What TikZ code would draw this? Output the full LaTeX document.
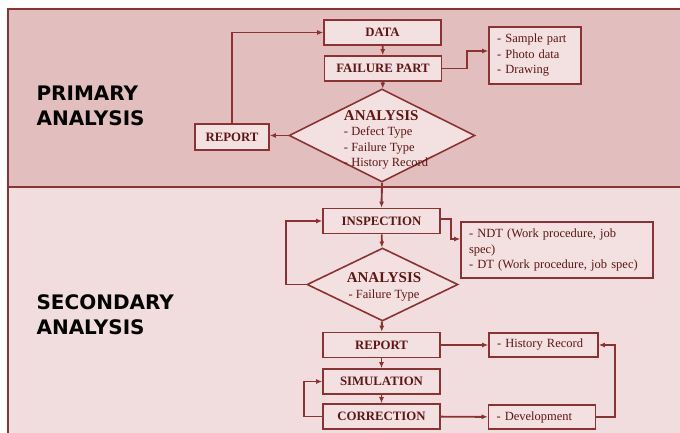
\documentclass[tikz,border=0pt]{standalone}
\usepackage{fontspec}
\setmainfont{Liberation Serif}
\newfontfamily\titlefont{DejaVu Sans}
\usetikzlibrary{shapes.geometric,arrows.meta,positioning,calc}

\definecolor{linered}{RGB}{140,50,50}
\definecolor{textred}{RGB}{95,22,22}
\definecolor{toppink}{RGB}{226,190,190}
\definecolor{lowpink}{RGB}{241,221,221}
\definecolor{boxpink}{RGB}{243,224,224}

\begin{document}
\begin{tikzpicture}[x=1pt,y=-1pt,
    box/.style={draw=linered, fill=boxpink, line width=1.6pt, minimum width=117pt, minimum height=25pt, inner sep=0pt, text=textred, font=\bfseries\fontsize{12.8}{14}\selectfont},
    listbox/.style={draw=linered, fill=boxpink, line width=1.6pt, inner ysep=0pt, inner xsep=8pt, text=textred, font=\fontsize{12.5}{15.5}\selectfont, align=left},
    decision/.style={diamond, draw=linered, fill=boxpink, line width=1.6pt, inner sep=0pt},
    inside/.style={text=textred, font=\fontsize{12.5}{15.5}\selectfont, align=left},
    flow/.style={draw=linered, line width=1.9pt, -{Latex[length=6pt,width=5pt]}},
    title/.style={font=\titlefont\bfseries\fontsize{20}{25}\selectfont, align=left, anchor=west}
]
    \useasboundingbox (0,0) rectangle (680,432);

    % Two bands
    \draw[linered, line width=1.6pt, fill=toppink] (8,9) rectangle (690,187);
    \draw[linered, line width=1.6pt, fill=lowpink] (8,187) rectangle (690,440);

    \node[title] (prim) at (33,106) {PRIMARY\\ANALYSIS};
    \node[title] (sec) at (33,315) {SECONDARY\\ANALYSIS};

    % Primary analysis
    \node[box] (data) at (382.5,32.5) {DATA};
    \node[box] (fail) at (383,68.5) {FAILURE PART};
    \node[decision, minimum width=186pt, minimum height=93pt] (ana1) at (382,135.5) {};
    \node[inside] (ana1txt) at (386,140) {{\bfseries\fontsize{15}{16}\selectfont ANALYSIS}\\- Defect Type\\- Failure Type\\- History Record};
    \node[box, minimum width=74pt, minimum height=26pt] (rep1) at (232,137) {REPORT};
    \node[listbox, text width=76pt, minimum height=57pt] (sample) at (535,55.5) {- Sample part\\- Photo data\\- Drawing};

    % Secondary analysis
    \node[box] (insp) at (381.5,221) {INSPECTION};
    \node[decision, minimum width=151pt, minimum height=73pt] (ana2) at (382.5,284.5) {};
    \node[inside, align=center] (ana2txt) at (384,287) {{\bfseries\fontsize{15}{16}\selectfont ANALYSIS}\\- Failure Type};
    \node[listbox, text width=176pt, minimum height=56pt] (ndt) at (557,250) {- NDT (Work procedure, job\\spec)\\- DT (Work procedure, job spec)};
    \node[box] (rep2) at (381.5,345) {REPORT};
    \node[listbox, text width=93pt, minimum height=24pt] (hist) at (543.5,345) {- History Record};
    \node[box] (sim) at (381.5,381.5) {SIMULATION};
    \node[box] (corr) at (381.5,416.5) {CORRECTION};
    \node[listbox, text width=91pt, minimum height=24pt] (dev) at (542,417) {- Development};

    % Connections, primary
    \draw[flow] (data) -- (fail);
    \draw[flow] (fail) -- (ana1);
    \draw[flow] (ana1.west) -- (ana1.west -| rep1.east);
    \draw[flow] (rep1.north) |- (data.west);
    \draw[flow] (fail.east) -- ++(25,0) |- ([yshift=4.5pt]sample.west);

    % Connections, secondary
    \draw[flow] (ana1.south) -- (insp.north);
    \draw[flow] (insp) -- (ana2);
    \draw[flow] (ana2.west) -- ++(-20,0) |- (insp.west);
    \draw[flow] ([yshift=2pt]insp.east) -- ++(10,0) |- ([yshift=11pt]ndt.west);
    \draw[flow] (ana2) -- (rep2);
    \draw[flow] (rep2) -- (hist);
    \draw[flow] (rep2) -- (sim);
    \draw[flow] (sim) -- (corr);
    \draw[flow] (corr.west) -- ++(-18,0) |- (sim.west);
    \draw[flow] (corr) -- (dev);
    \draw[flow] (dev.east) -- ++(19,0) |- (hist.east);
\end{tikzpicture}
\end{document}
